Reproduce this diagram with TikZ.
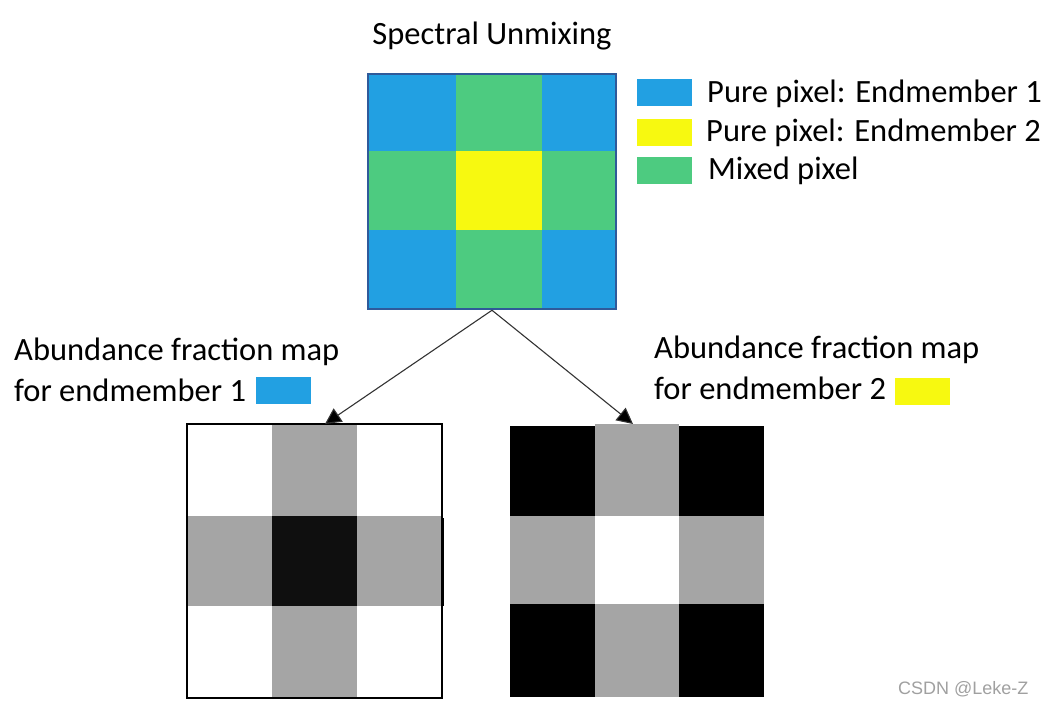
\documentclass[tikz,border=0pt]{standalone}
\usepackage{fontspec}
\setmainfont{Carlito}
\newfontfamily\wmfont{Liberation Sans}
\usetikzlibrary{arrows.meta}
\definecolor{eblue}{HTML}{22A0E2}
\definecolor{egreen}{HTML}{4DCB80}
\definecolor{eyellow}{HTML}{F7F910}
\definecolor{gborder}{HTML}{2F5A9A}
\definecolor{mgray}{HTML}{A5A5A5}
\definecolor{dblack}{HTML}{0F0F0F}
\definecolor{wmgray}{HTML}{A0A0A0}
\begin{document}
\begin{tikzpicture}[x=1pt,y=-1pt,
  lbl/.style={inner sep=0pt,anchor=base west,font=\fontsize{32.5}{38}\selectfont},
  swatch/.style={inner sep=0pt,minimum width=55pt,minimum height=27pt},
  gridbox/.style={inner sep=0pt,fill=none},
  arrowline/.style={draw=black!80,line width=1.1pt,-{Triangle[length=16pt,width=16pt,fill=black]}}]
\useasboundingbox (0,0) rectangle (1044,703);
% top grid cells
\fill[eblue]   (368,74) rectangle (456,151);
\fill[egreen]  (456,74) rectangle (542,151);
\fill[eblue]   (542,74) rectangle (616,151);
\fill[egreen]  (368,151) rectangle (456,230);
\fill[eyellow] (456,151) rectangle (542,230);
\fill[egreen]  (542,151) rectangle (616,230);
\fill[eblue]   (368,230) rectangle (456,309);
\fill[egreen]  (456,230) rectangle (542,309);
\fill[eblue]   (542,230) rectangle (616,309);
\node[gridbox,draw=gborder,line width=2.5pt,minimum width=248pt,minimum height=235pt] (top) at (492,191.5) {};
% title
\node[inner sep=0pt,anchor=base,font=\fontsize{32.5}{38}\selectfont] (title) at (492,45) {Spectral Unmixing};
% legend
\node[swatch,fill=eblue]   (sw1) at (664.5,92.5) {};
\node[swatch,fill=eyellow] (sw2) at (664.5,133) {};
\node[swatch,fill=egreen]  (sw3) at (664.5,171) {};
\node[lbl] (lg1) at (707,103) {Pure pixel: Endmember 1};
\node[lbl] (lg2) at (706,142) {Pure pixel: Endmember 2};
\node[lbl] (lg3) at (708,180) {Mixed pixel};
% left abundance map
\fill[white] (187,424) rectangle (272,516);
\fill[mgray] (272,424) rectangle (357,516);
\fill[white] (357,424) rectangle (442,516);
\fill[mgray] (187,516) rectangle (272,606);
\fill[dblack] (272,516) rectangle (357,606);
\fill[mgray] (357,516) rectangle (442,606);
\fill[white] (187,606) rectangle (272,698);
\fill[mgray] (272,606) rectangle (357,698);
\fill[white] (357,606) rectangle (442,698);
\node[gridbox,draw=black,line width=1.5pt,minimum width=255pt,minimum height=274pt] (left) at (314.5,561) {};
\draw[black,line width=2pt] (left.east |- 0,518) -- (left.east |- 0,606);
% right abundance map
\fill[black] (510,426) rectangle (595,516);
\fill[mgray] (595,424) rectangle (679,516);
\fill[black] (679,426) rectangle (764,516);
\fill[mgray] (510,516) rectangle (595,604);
\fill[white] (595,516) rectangle (679,604);
\fill[mgray] (679,516) rectangle (764,604);
\fill[black] (510,604) rectangle (595,697);
\fill[mgray] (595,604) rectangle (679,697);
\fill[black] (679,604) rectangle (764,697);
\node[gridbox,minimum width=254pt,minimum height=273pt] (right) at (637,560.5) {};
% labels
\node[lbl] (la1) at (14,360) {Abundance fraction map};
\node[lbl] (la2) at (14,401) {for endmember 1};
\node[swatch,fill=eblue] (sla) at (283,390.5) {};
\node[lbl] (ra1) at (654,358) {Abundance fraction map};
\node[lbl] (ra2) at (654,399) {for endmember 2};
\node[swatch,fill=eyellow] (sra) at (922,391.5) {};
% arrows
\coordinate (lt) at (325,424);
\coordinate (rt) at (633,424);
\draw[arrowline] (top.south) -- (lt);
\draw[arrowline] (top.south) -- (rt);
% watermark
\node[inner sep=0pt,anchor=base west,text=wmgray,font=\wmfont\fontsize{18}{22}\selectfont] (wm) at (898,694) {CSDN @Leke-Z};
\end{tikzpicture}
\end{document}
